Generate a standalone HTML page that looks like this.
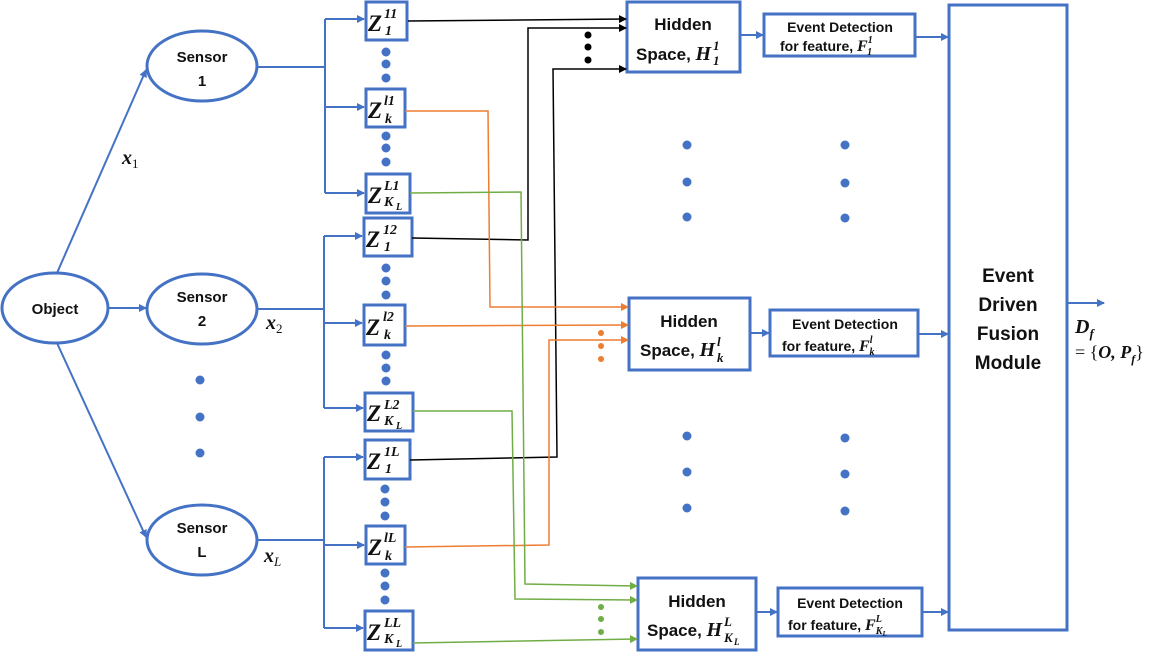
<!DOCTYPE html>
<html><head><meta charset="utf-8"><style>
html,body{margin:0;padding:0;background:#fff;}
svg{display:block;}
.s{font-family:"Liberation Sans",sans-serif;font-weight:bold;fill:#111;}
.z{font-family:"Liberation Serif",serif;font-weight:bold;font-style:italic;fill:#111;}
</style></head><body>
<svg width="1160" height="656" viewBox="0 0 1160 656" xmlns="http://www.w3.org/2000/svg">
<defs>
<marker id="ab" markerWidth="8" markerHeight="8" refX="7" refY="4" orient="auto" markerUnits="userSpaceOnUse"><path d="M0,0 L8,4 L0,8 z" fill="#4472C4"/></marker>
<marker id="ak" markerWidth="8" markerHeight="8" refX="7" refY="4" orient="auto" markerUnits="userSpaceOnUse"><path d="M0,0 L8,4 L0,8 z" fill="#000"/></marker>
<marker id="ao" markerWidth="8" markerHeight="8" refX="7" refY="4" orient="auto" markerUnits="userSpaceOnUse"><path d="M0,0 L8,4 L0,8 z" fill="#ED7D31"/></marker>
<marker id="ag" markerWidth="8" markerHeight="8" refX="7" refY="4" orient="auto" markerUnits="userSpaceOnUse"><path d="M0,0 L8,4 L0,8 z" fill="#70AD47"/></marker>
</defs>
<g fill="none" stroke="#4472C4" stroke-width="2">
<ellipse cx="55" cy="308" rx="53" ry="35" stroke-width="3"/>
<ellipse cx="202" cy="66" rx="55" ry="35" stroke-width="3"/>
<ellipse cx="202" cy="309" rx="55" ry="35" stroke-width="3"/>
<ellipse cx="202" cy="540" rx="55" ry="35" stroke-width="3"/>
<line x1="57" y1="273" x2="146" y2="70" marker-end="url(#ab)"/>
<line x1="108" y1="308" x2="146" y2="308" marker-end="url(#ab)"/>
<line x1="57" y1="343" x2="146" y2="537" marker-end="url(#ab)"/>
<path d="M257,67 H325 M325,19 V193"/>
<path d="M257,309 H324 M324,236 V408"/>
<path d="M257,540 H324 M324,457 V628"/>
<line x1="325" y1="19" x2="364" y2="19" marker-end="url(#ab)"/>
<line x1="325" y1="107" x2="364" y2="107" marker-end="url(#ab)"/>
<line x1="325" y1="193" x2="364" y2="193" marker-end="url(#ab)"/>
<line x1="324" y1="236" x2="362" y2="236" marker-end="url(#ab)"/>
<line x1="324" y1="323" x2="362" y2="323" marker-end="url(#ab)"/>
<line x1="324" y1="408" x2="363" y2="408" marker-end="url(#ab)"/>
<line x1="324" y1="457" x2="363" y2="457" marker-end="url(#ab)"/>
<line x1="324" y1="545" x2="364" y2="545" marker-end="url(#ab)"/>
<line x1="324" y1="628" x2="363" y2="628" marker-end="url(#ab)"/>
</g>
<g fill="none" stroke="#4472C4" stroke-width="3">
<rect x="366" y="2" width="41" height="38"/>
<rect x="366" y="89" width="39" height="38"/>
<rect x="366" y="174" width="44" height="39"/>
<rect x="364" y="218" width="48" height="38"/>
<rect x="364" y="305" width="41" height="40"/>
<rect x="365" y="393" width="48" height="38"/>
<rect x="365" y="440" width="45" height="39"/>
<rect x="366" y="526" width="39" height="38"/>
<rect x="365" y="611" width="48" height="39"/>
<rect x="627" y="2" width="113" height="70"/>
<rect x="629" y="298" width="121" height="72"/>
<rect x="638" y="578" width="118" height="72"/>
<rect x="764" y="14" width="151" height="42"/>
<rect x="770" y="310" width="148" height="46"/>
<rect x="778" y="588" width="144" height="48"/>
<rect x="949" y="5" width="118" height="625"/>
</g>
<g fill="#4472C4">
<circle cx="386" cy="52" r="4.5"/><circle cx="386" cy="64" r="4.5"/><circle cx="386" cy="78" r="4.5"/>
<circle cx="386" cy="136" r="4.5"/><circle cx="386" cy="148" r="4.5"/><circle cx="386" cy="162" r="4.5"/>
<circle cx="386" cy="268" r="4.5"/><circle cx="386" cy="281" r="4.5"/><circle cx="386" cy="295" r="4.5"/>
<circle cx="386" cy="355" r="4.5"/><circle cx="386" cy="368" r="4.5"/><circle cx="386" cy="381" r="4.5"/>
<circle cx="385" cy="489" r="4.5"/><circle cx="385" cy="502" r="4.5"/><circle cx="385" cy="516" r="4.5"/>
<circle cx="385" cy="573" r="4.5"/><circle cx="385" cy="586" r="4.5"/><circle cx="385" cy="600" r="4.5"/>
<circle cx="200" cy="380" r="4.5"/><circle cx="200" cy="417" r="4.5"/><circle cx="200" cy="453" r="4.5"/>
<circle cx="687" cy="145" r="4.5"/><circle cx="687" cy="182" r="4.5"/><circle cx="687" cy="217" r="4.5"/>
<circle cx="845" cy="145" r="4.5"/><circle cx="845" cy="183" r="4.5"/><circle cx="845" cy="218" r="4.5"/>
<circle cx="687" cy="436" r="4.5"/><circle cx="687" cy="472" r="4.5"/><circle cx="687" cy="508" r="4.5"/>
<circle cx="845" cy="438" r="4.5"/><circle cx="845" cy="474" r="4.5"/><circle cx="845" cy="511" r="4.5"/>
</g>
<g fill="#000"><circle cx="588" cy="35" r="3.5"/><circle cx="588" cy="47" r="3.5"/><circle cx="588" cy="60" r="3.5"/></g>
<g fill="#ED7D31"><circle cx="601" cy="333" r="3"/><circle cx="601" cy="346" r="3"/><circle cx="601" cy="359" r="3"/></g>
<g fill="#70AD47"><circle cx="601" cy="607" r="3"/><circle cx="601" cy="619" r="3"/><circle cx="601" cy="632" r="3"/></g>
<g fill="none" stroke="#000" stroke-width="1.5">
<polyline points="408,21 626,19" marker-end="url(#ak)"/>
<polyline points="412,238 528,240 528,28 626,28" marker-end="url(#ak)"/>
<polyline points="410,460 557,457 553,69 626,69" marker-end="url(#ak)"/>
</g>
<g fill="none" stroke="#ED7D31" stroke-width="1.5">
<polyline points="405,111 488,111 490,307 628,307" marker-end="url(#ao)"/>
<polyline points="405,326 628,325" marker-end="url(#ao)"/>
<polyline points="405,547 549,545 549,340 628,340" marker-end="url(#ao)"/>
</g>
<g fill="none" stroke="#70AD47" stroke-width="1.5">
<polyline points="410,193 521,192 525,584 637,586" marker-end="url(#ag)"/>
<polyline points="413,411 512,411 515,599 637,600" marker-end="url(#ag)"/>
<polyline points="413,643 637,639" marker-end="url(#ag)"/>
</g>
<g stroke="#4472C4" stroke-width="2" fill="none">
<line x1="740" y1="35" x2="763" y2="35" marker-end="url(#ab)"/>
<line x1="915" y1="37" x2="948" y2="37" marker-end="url(#ab)"/>
<line x1="750" y1="333" x2="769" y2="333" marker-end="url(#ab)"/>
<line x1="918" y1="334" x2="948" y2="334" marker-end="url(#ab)"/>
<line x1="756" y1="612" x2="777" y2="612" marker-end="url(#ab)"/>
<line x1="922" y1="612" x2="948" y2="612" marker-end="url(#ab)"/>
<line x1="1067" y1="303" x2="1104" y2="303" marker-end="url(#ab)"/>
</g>
<g class="s" font-size="15" text-anchor="middle">
<text x="55" y="314">Object</text>
<text x="202" y="62">Sensor</text><text x="202" y="86">1</text>
<text x="202" y="302">Sensor</text><text x="202" y="326">2</text>
<text x="202" y="533">Sensor</text><text x="202" y="557">L</text>
</g>
<g class="s" font-size="17" text-anchor="middle">
<text x="683" y="30">Hidden</text>
<text x="689" y="327">Hidden</text>
<text x="697" y="607">Hidden</text>
</g>
<g class="s" font-size="17">
<text x="636" y="60">Space, <tspan class="z" font-size="20">H</tspan></text>
<text x="640" y="356">Space, <tspan class="z" font-size="20">H</tspan></text>
<text x="647" y="636">Space, <tspan class="z" font-size="20">H</tspan></text>
</g>
<g class="z" font-size="13">
<text x="713" y="50">1</text><text x="713" y="65">1</text>
<text x="717" y="346">l</text><text x="717" y="362">k</text>
<text x="724" y="626">L</text><text x="724" y="642">K</text><text x="734" y="645" font-size="9">L</text>
</g>
<g class="s" font-size="14" text-anchor="middle">
<text x="840" y="32">Event Detection</text>
<text x="845" y="329">Event Detection</text>
<text x="850" y="608">Event Detection</text>
</g>
<g class="s" font-size="14">
<text x="780" y="51">for feature, <tspan class="z" font-size="16">F</tspan><tspan class="z" font-size="10" dy="-8">1</tspan><tspan class="z" font-size="10" dx="-5" dy="12">1</tspan></text>
<text x="782" y="351">for feature, <tspan class="z" font-size="16">F</tspan><tspan class="z" font-size="10" dy="-8">l</tspan><tspan class="z" font-size="10" dx="-3" dy="12">k</tspan></text>
<text x="788" y="630">for feature, <tspan class="z" font-size="16">F</tspan><tspan class="z" font-size="10" dy="-8">L</tspan><tspan class="z" font-size="10" dx="-6" dy="12">K</tspan><tspan class="z" font-size="7" dy="2">L</tspan></text>
</g>
<g class="s" font-size="19" text-anchor="middle">
<text x="1008" y="282">Event</text>
<text x="1008" y="311">Driven</text>
<text x="1008" y="340">Fusion</text>
<text x="1008" y="369">Module</text>
</g>
<text class="z" x="1075" y="333" font-size="20">D<tspan font-size="13" dy="5">f</tspan></text>
<text class="z" x="1075" y="358" font-size="18"><tspan font-style="normal" font-weight="normal">= {</tspan>O, P<tspan font-size="12" dy="5">f</tspan><tspan dy="-5" font-style="normal" font-weight="normal">}</tspan></text>
<g class="z" font-size="20">
<text x="122" y="164">x<tspan font-size="13" dy="4" font-style="normal" font-weight="normal">1</tspan></text>
<text x="266" y="329">x<tspan font-size="13" dy="4" font-style="normal" font-weight="normal">2</tspan></text>
<text x="264" y="562">x<tspan font-size="13" dy="4" font-weight="normal">L</tspan></text>
</g>
<g class="z" font-size="23">
<text x="368" y="31">Z</text><text x="368" y="118">Z</text><text x="368" y="203">Z</text>
<text x="366" y="247">Z</text><text x="366" y="335">Z</text><text x="367" y="421">Z</text>
<text x="367" y="469">Z</text><text x="368" y="555">Z</text><text x="367" y="640">Z</text>
</g>
<g class="z" font-size="14">
<text x="384" y="18">11</text><text x="385" y="35">1</text>
<text x="384" y="105">l1</text><text x="385" y="123">k</text>
<text x="384" y="190">L1</text><text x="384" y="206">K</text><text x="396" y="210" font-size="10">L</text>
<text x="383" y="234">12</text><text x="384" y="251">1</text>
<text x="383" y="321">l2</text><text x="384" y="339">k</text>
<text x="384" y="409">L2</text><text x="384" y="425">K</text><text x="396" y="429" font-size="10">L</text>
<text x="384" y="456">1L</text><text x="385" y="473">1</text>
<text x="384" y="542">lL</text><text x="385" y="560">k</text>
<text x="384" y="627">LL</text><text x="384" y="643">K</text><text x="396" y="647" font-size="10">L</text>
</g>
</svg>
</body></html>
